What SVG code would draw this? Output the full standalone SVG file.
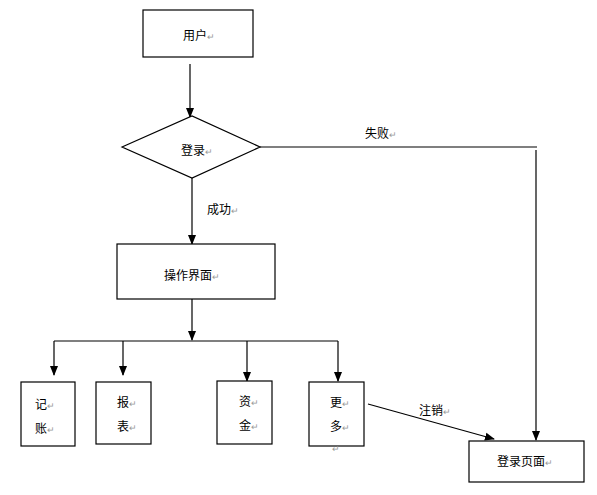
<svg xmlns="http://www.w3.org/2000/svg" width="597" height="495" viewBox="0 0 597 495">
<defs>
<marker id="ah" markerWidth="10" markerHeight="10" refX="9" refY="5" orient="auto" markerUnits="userSpaceOnUse">
<path d="M0,1 L10,5 L0,9 Z" fill="#000"/>
</marker>
<style>
.box{fill:#fff;stroke:#000;stroke-width:1.2}
.t{font-family:"Liberation Sans","Noto Sans CJK SC",sans-serif;font-size:12px;fill:#000}
.r{fill:#999;font-size:9px}
.ln{fill:none;stroke:#000;stroke-width:1.2}
</style>
</defs>
<rect width="597" height="495" fill="#fff"/>
<g id="connectors">
<path class="ln" d="M190,64 V117" marker-end="url(#ah)"/>
<path class="ln" d="M192,178 V244" marker-end="url(#ah)"/>
<path class="ln" d="M260,147 H537"/>
<path class="ln" d="M536,150 V440" stroke="#444" marker-end="url(#ah)"/>
<path class="ln" d="M192,299 V340" marker-end="url(#ah)"/>
<path class="ln" d="M54,341 H338"/>
<path class="ln" d="M54,341 V375" marker-end="url(#ah)"/>
<path class="ln" d="M123,341 V375" marker-end="url(#ah)"/>
<path class="ln" d="M247,341 V381" marker-end="url(#ah)"/>
<path class="ln" d="M338,341 V381" marker-end="url(#ah)"/>
<path class="ln" d="M368,404 L494,439" marker-end="url(#ah)"/>
<text class="t" x="365" y="138">失败<tspan class="r">↵</tspan></text>
<text class="t" x="207" y="214">成功<tspan class="r">↵</tspan></text>
<text class="t" x="419" y="415">注销<tspan class="r">↵</tspan></text>
</g>
<g id="user">
<rect class="box" x="143" y="10" width="110" height="47"/>
<text class="t" x="183" y="40">用户<tspan class="r">↵</tspan></text>
</g>
<g id="login">
<path class="box" d="M122,147 L192,116 L260,147 L192,178 Z"/>
<text class="t" x="181" y="155">登录<tspan class="r">↵</tspan></text>
</g>
<g id="ops">
<rect class="box" x="117" y="244" width="158" height="55"/>
<text class="t" x="164" y="280">操作界面<tspan class="r">↵</tspan></text>
</g>
<g id="jizhang">
<rect class="box" x="21" y="382" width="54" height="64"/>
<text class="t" x="35" y="409">记<tspan class="r">↵</tspan></text>
<text class="t" x="35" y="433">账<tspan class="r">↵</tspan></text>
</g>
<g id="baobiao">
<rect class="box" x="96" y="382" width="55" height="62"/>
<text class="t" x="117" y="407">报<tspan class="r">↵</tspan></text>
<text class="t" x="117" y="431">表<tspan class="r">↵</tspan></text>
</g>
<g id="zijin">
<rect class="box" x="217" y="381" width="55" height="63"/>
<text class="t" x="239" y="406">资<tspan class="r">↵</tspan></text>
<text class="t" x="239" y="430">金<tspan class="r">↵</tspan></text>
</g>
<g id="gengduo">
<rect class="box" x="309" y="382" width="55" height="64"/>
<text class="t" x="330" y="407">更<tspan class="r">↵</tspan></text>
<text class="t" x="330" y="431">多<tspan class="r">↵</tspan></text>
<text class="t r" x="332" y="452">↵</text>
</g>
<g id="loginpage">
<rect class="box" x="469" y="441" width="115" height="41"/>
<text class="t" x="497" y="466">登录页面<tspan class="r">↵</tspan></text>
</g>
</svg>
